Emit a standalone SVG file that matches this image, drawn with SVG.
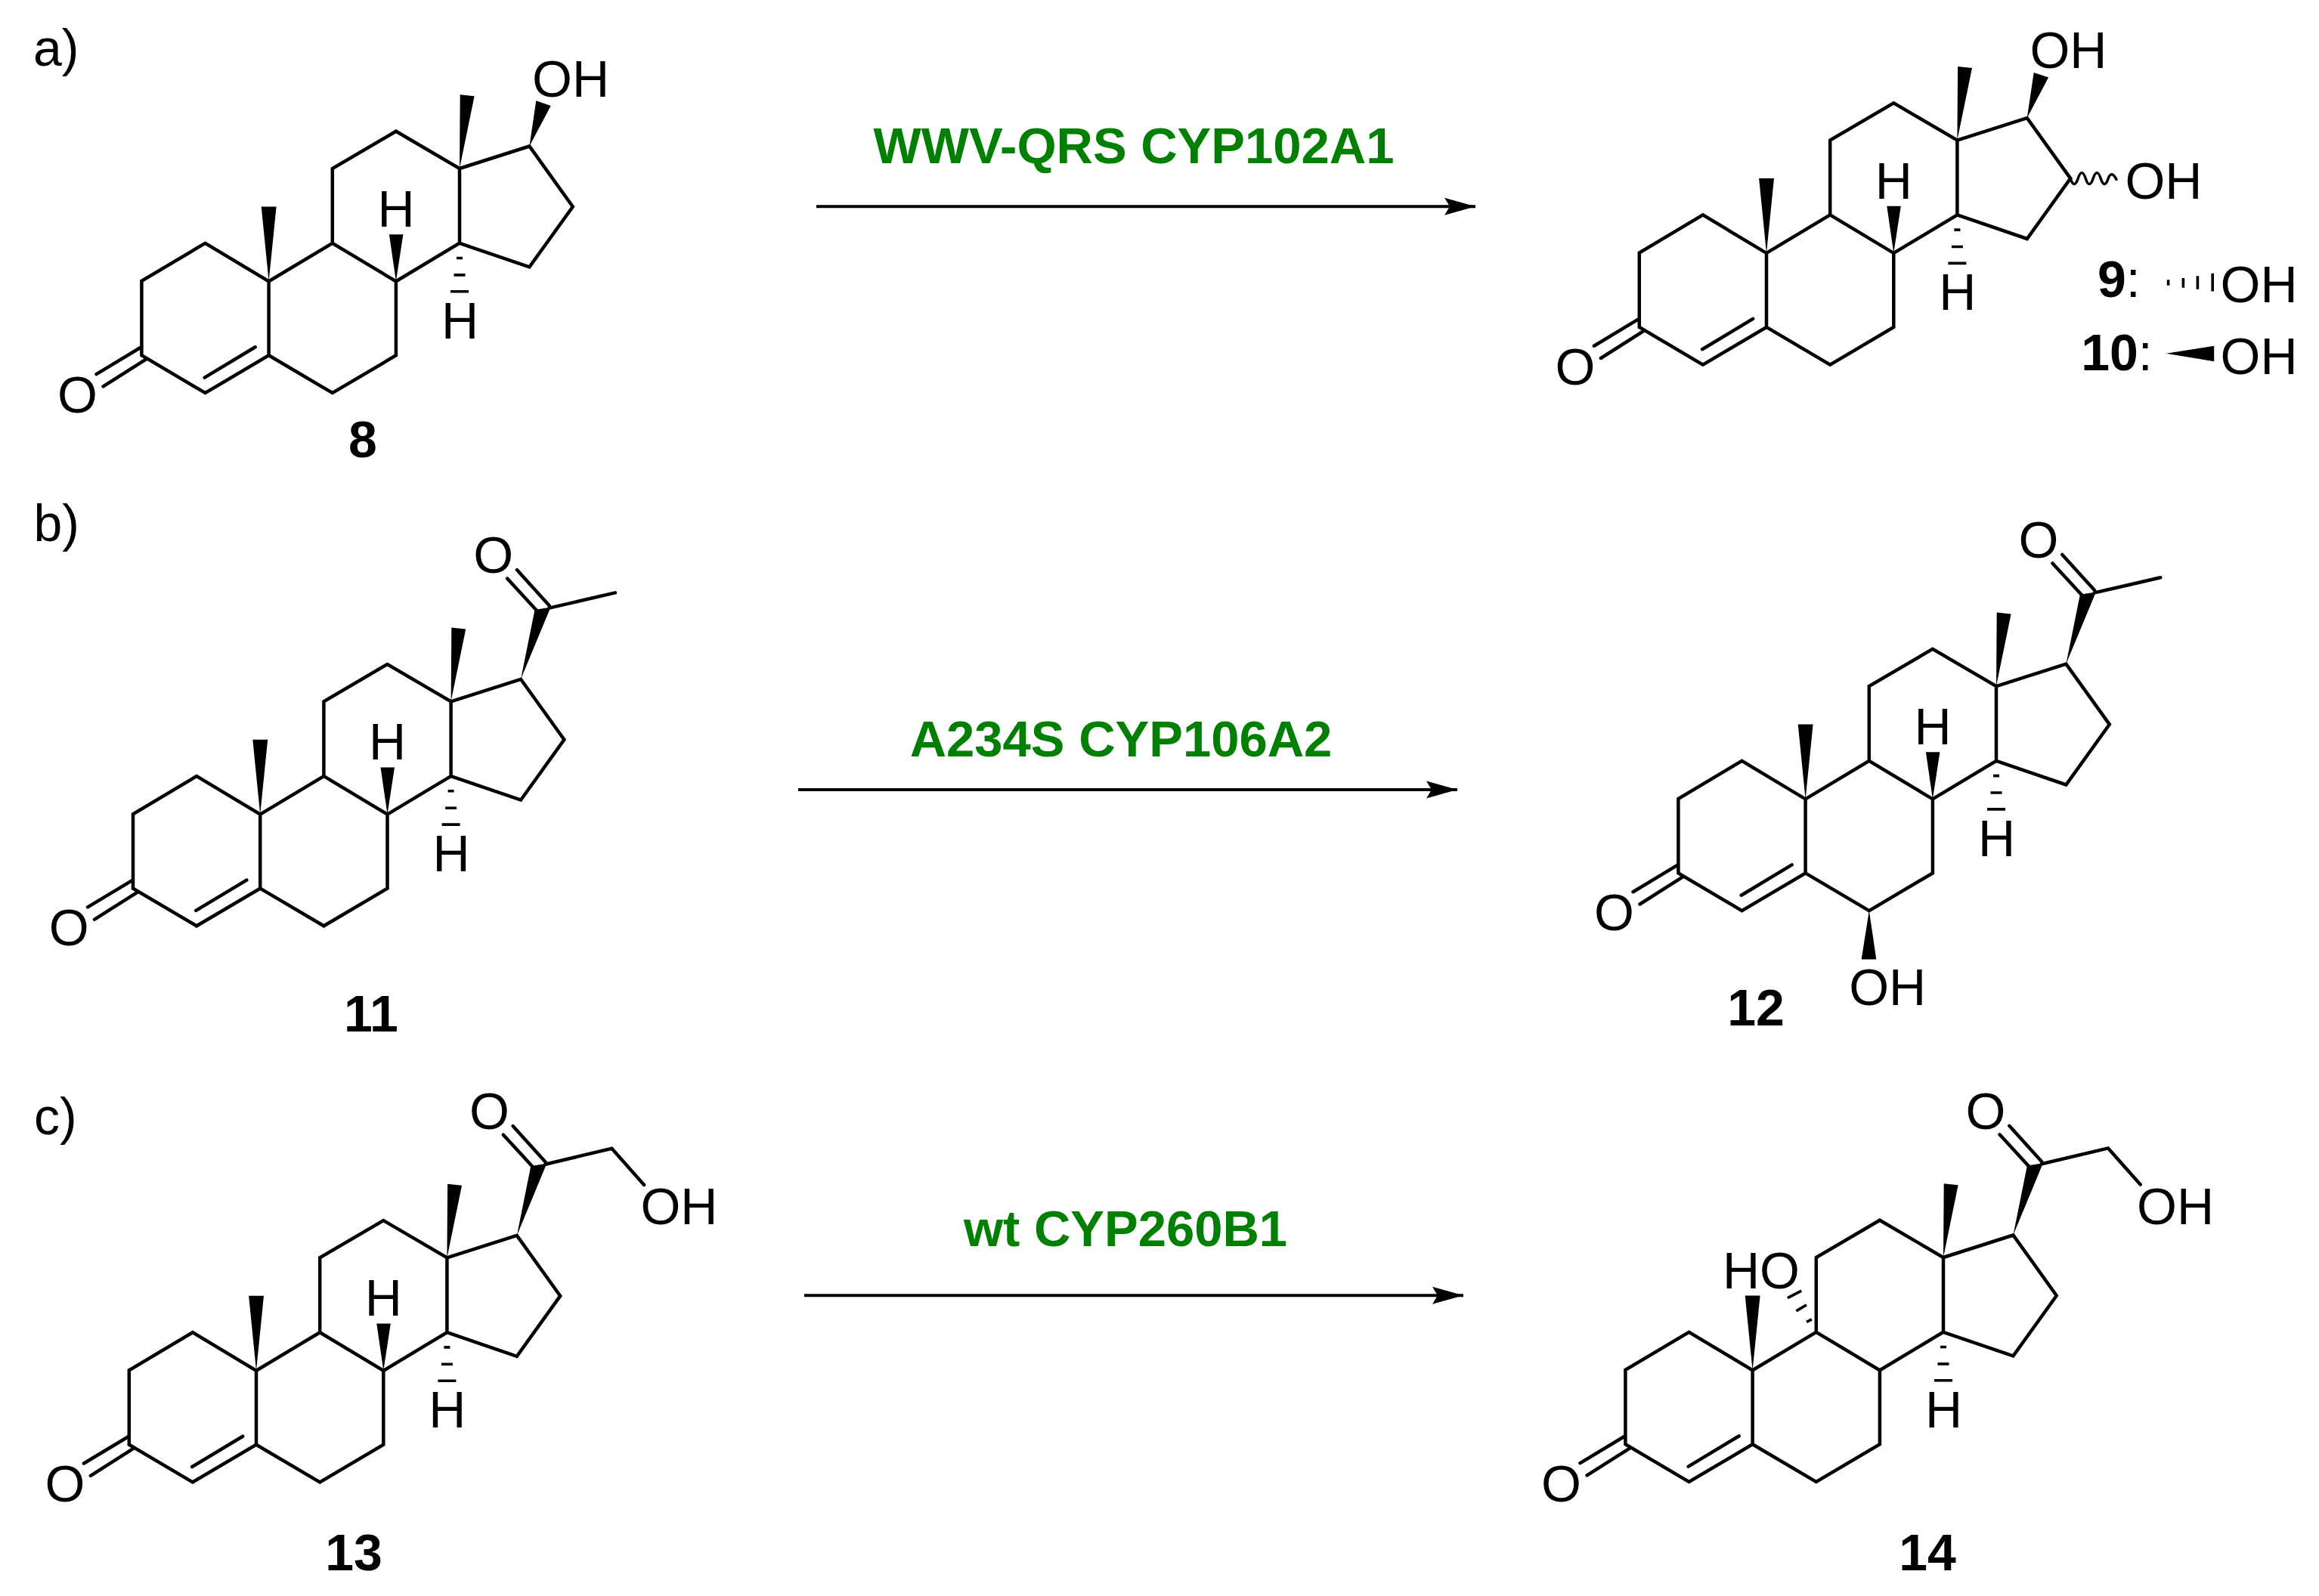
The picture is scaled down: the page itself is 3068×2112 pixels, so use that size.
<svg xmlns="http://www.w3.org/2000/svg" width="3068" height="2112" viewBox="0 0 3068 2112">
<style>
text{font-family:"Liberation Sans",Arial,sans-serif;fill:#000}
.a{font-size:68px}
.m{text-anchor:middle}
.n{font-size:68px;font-weight:bold;text-anchor:middle}
.e{font-size:67px;font-weight:bold;fill:#008000;text-anchor:middle}
.b{fill:none;stroke:#000;stroke-width:4.5;stroke-linejoin:miter;stroke-linecap:round}
.w{fill:#000;stroke:none}
.h{fill:none;stroke:#000;stroke-width:3.6}
.c{fill:none;stroke:#000;stroke-width:4;marker-end:url(#arr)}
</style>
<defs>
<marker id="arr" markerUnits="userSpaceOnUse" markerWidth="44" markerHeight="24" refX="41" refY="12" orient="auto" overflow="visible"><path d="M0 .5L41 12L0 23.500L7 12Z" fill="#000"/></marker>
<g id="core">
<path class="b" d="M187.400 470.300V371.900L271.500 321.800L355.600 372.300V470.300L271.500 520ZM355.600 372.300L439.800 321.800L523.900 372.300V470.300L439.800 520L355.600 470.300M439.800 321.800V223L523.900 173.700L608 223V321.800L523.900 372.300M608 223L700.400 193.500L757.800 273.500L700.400 353.400L608 321.800"/>
<path class="b" d="M187 459.300L127.500 495.100M193.300 475.300L136.500 511.400M337.700 459.300L270.700 499.600"/>
<path class="w" d="M355.600 372.300L345.700 273.400H365.600ZM608 223L608.700 125.300L627.600 127.300Z"/>
<path class="h" d="M604 341.500H612M600.500 363.900H615.500M596 385.800H620"/>
</g>
<path id="h8" class="w" d="M523.900 372.300L514.900 310.200H533.400Z"/>
<path id="acetyl" class="b" d="M738 96L695.300 48.800M720.800 102L682.500 60.300"/>
<path id="w17" class="w" d="M700.400 193.500L718.900 101.600L739.900 98.300Z"/>
</defs>

<g id="panel-labels">
<text class="a" x="44" y="86.500">a)</text>
<text class="a" x="44.500" y="716">b)</text>
<text class="a" x="45" y="1501">c)</text>
</g>

<g id="mol-8">
<use href="#core"/><use href="#h8"/>
<path class="w" d="M700.400 193.500L709.300 133.300L728.700 140Z"/>
<text class="a m" x="102.500" y="546">O</text>
<text class="a m" x="524" y="300">H</text>
<text class="a m" x="608.500" y="447.500">H</text>
<text class="a" x="704" y="127.700">OH</text>
<text class="n" x="480" y="605">8</text>
</g>

<g id="mol-9-10" transform="translate(1981.400 -37.400)">
<use href="#core"/><use href="#h8"/>
<path class="w" d="M700.400 193.500L709.300 133.300L728.700 140Z"/>
<path class="b" style="stroke-width:3.4" d="M757.800 273.500Q762.800 288.500 767.800 273.500Q772.800 258.500 777.800 273.500Q782.800 288.500 787.800 273.500Q792.800 258.500 797.800 273.500Q802.800 288.500 807.800 273.500Q812 262 818.600 275"/>
<text class="a m" x="102.500" y="546">O</text>
<text class="a m" x="524" y="300">H</text>
<text class="a m" x="608.500" y="447.500">H</text>
<text class="a" x="704" y="127.700">OH</text>
<text class="a" x="830" y="300.400">OH</text>
</g>

<g id="key-9">
<text class="n" x="2803.400" y="393.400">9<tspan font-weight="normal">:</tspan></text>
<path class="h" d="M2868.600 370.200V377.800M2888.400 368V380.700M2907.400 365.200V382.800M2927.200 361.800V385.400"/>
<text class="a" x="2937.500" y="399.700">OH</text>
</g>
<g id="key-10">
<text class="n" x="2800.500" y="490">10<tspan font-weight="normal">:</tspan></text>
<path class="w" d="M2865.900 467.800L2929.200 457.700V478.300Z"/>
<text class="a" x="2937.500" y="495">OH</text>
</g>

<g id="mol-11" transform="translate(-11.400 705.300)">
<use href="#core"/><use href="#h8"/><use href="#acetyl"/><use href="#w17"/>
<path class="b" d="M738 99.300L825.300 79.100"/>
<text class="a m" x="664" y="52.500">O</text>
<text class="a m" x="102.500" y="546">O</text>
<text class="a m" x="524" y="300">H</text>
<text class="a m" x="608.500" y="447.500">H</text>
</g>
<text id="label-11" class="n" x="491" y="1364.500">11</text>

<g id="mol-12" transform="translate(2033 685.100)">
<use href="#core"/><use href="#h8"/><use href="#acetyl"/><use href="#w17"/>
<path class="b" d="M738 99.300L825.300 79.100"/>
<path class="w" d="M439.800 520L429.700 584.300H449.300Z"/>
<text class="a m" x="664" y="52.500">O</text>
<text class="a m" x="102.500" y="546">O</text>
<text class="a m" x="524" y="300">H</text>
<text class="a m" x="608.500" y="447.500">H</text>
<text class="a" x="413.200" y="644.900">OH</text>
</g>
<text id="label-12" class="n" x="2323" y="1356.600">12</text>

<g id="mol-13" transform="translate(-16.600 1441.400)">
<use href="#core"/><use href="#h8"/><use href="#acetyl"/><use href="#w17"/>
<path class="b" d="M738 99.300L826 78.400L868.700 126.500"/>
<text class="a m" x="664" y="52.500">O</text>
<text class="a m" x="102.500" y="546">O</text>
<text class="a m" x="524" y="300">H</text>
<text class="a m" x="608.500" y="447.500">H</text>
<text class="a" x="864" y="179">OH</text>
</g>
<text id="label-13" class="n" x="468" y="2078.300">13</text>

<g id="mol-14" transform="translate(1963 1441)">
<use href="#core"/><use href="#acetyl"/><use href="#w17"/>
<path class="b" d="M738 99.300L826 78.400L868.700 126.500"/>
<path class="h" d="M427 308.400L433.900 304.800M413.400 293.900L427 285.700M401.900 276.600L420.300 267.100"/>
<text class="a m" x="664" y="52.500">O</text>
<text class="a m" x="102.500" y="546">O</text>
<text class="a m" x="608.500" y="447.500">H</text>
<text class="a" x="864" y="179">OH</text>
<text class="a" x="316" y="263.500">HO</text>
</g>
<text id="label-14" class="n" x="2550" y="2078.300">14</text>

<g id="connectors">
<path class="c" d="M1080 273.300H1952"/>
<path class="c" d="M1056 1045H1928"/>
<path class="c" d="M1064 1714.300H1936"/>
</g>
<g id="enzymes">
<text class="e" x="1500" y="216">WWV-QRS CYP102A1</text>
<text class="e" x="1483" y="1000.700">A234S CYP106A2</text>
<text class="e" x="1489" y="1649.300">wt CYP260B1</text>
</g>
</svg>
